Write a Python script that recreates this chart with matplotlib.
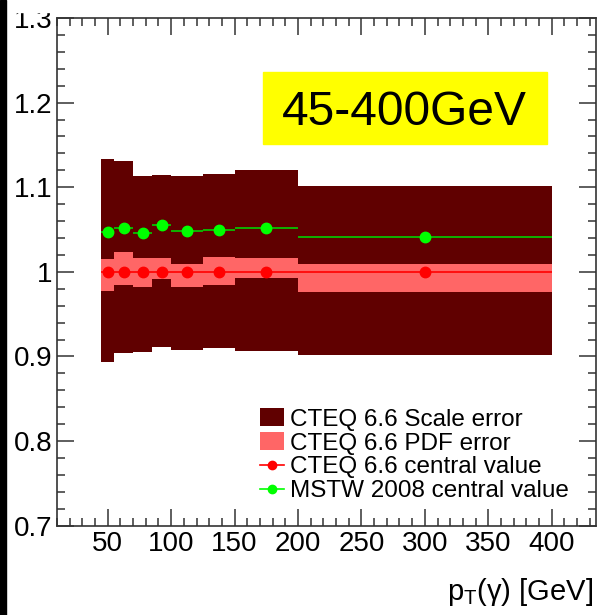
import numpy as np
import matplotlib
matplotlib.use("Agg")
import matplotlib.pyplot as plt
from matplotlib.patches import Patch, Rectangle
from matplotlib.lines import Line2D
from matplotlib.ticker import MultipleLocator, FixedLocator

plt.rcParams['font.family'] = ['Liberation Sans', 'DejaVu Sans']
plt.rcParams['mathtext.fontset'] = 'custom'
plt.rcParams['mathtext.rm'] = 'Liberation Sans'

# pT(gamma) bins [GeV]
bin_edges = [45, 55, 70, 85, 100, 125, 150, 200, 400]

# ratio to CTEQ 6.6 central value
scale_up = [1.133, 1.131, 1.113, 1.114, 1.113, 1.116, 1.120, 1.102]
scale_dn = [0.894, 0.904, 0.905, 0.911, 0.908, 0.910, 0.906, 0.902]
pdf_up = [1.015, 1.024, 1.016, 1.016, 1.009, 1.018, 1.016, 1.009]
pdf_dn = [0.977, 0.985, 0.982, 0.992, 0.982, 0.985, 0.993, 0.976]
cteq_central = [1.0, 1.0, 1.0, 1.0, 1.0, 1.0, 1.0, 1.0]
mstw_central = [1.047, 1.052, 1.046, 1.055, 1.048, 1.049, 1.052, 1.041]

x_ticks = [50, 100, 150, 200, 250, 300, 350, 400]
y_ticks = [0.7, 0.8, 0.9, 1.0, 1.1, 1.2, 1.3]
y_ticklabels = ["0.7", "0.8", "0.9", "1", "1.1", "1.2", "1.3"]

dark_red = "#600000"
light_red = "#ff6666"
red = "#ff0000"
green = "#00ff00"

edges = np.array(bin_edges, dtype=float)
centers = 0.5 * (edges[1:] + edges[:-1])
half_w = 0.5 * (edges[1:] - edges[:-1])

fig = plt.figure(figsize=(6.03, 6.15), dpi=100)
ax = fig.add_axes([0.0945, 0.1452, 0.894, 0.8255])

ax.stairs(scale_up, edges, baseline=scale_dn, fill=True, color=dark_red, lw=0)
ax.stairs(pdf_up, edges, baseline=pdf_dn, fill=True, color=light_red, lw=0)

ax.errorbar(centers, cteq_central, xerr=half_w, fmt='o', color=red, ms=7.5,
            elinewidth=1.2, capsize=0, zorder=4)
ax.errorbar(centers, mstw_central, xerr=half_w, fmt='o', color=green, ms=7.5,
            elinewidth=1.2, ecolor="#00d000", capsize=0, zorder=5)

ax.set_xlim(10, 435)
ax.set_ylim(0.7, 1.3)

ax.xaxis.set_major_locator(FixedLocator(x_ticks))
ax.xaxis.set_minor_locator(MultipleLocator(10))
ax.yaxis.set_major_locator(FixedLocator(y_ticks))
ax.yaxis.set_minor_locator(MultipleLocator(0.02))
ax.set_yticklabels(y_ticklabels)

ax.tick_params(which='both', direction='in', top=True, right=True,
               colors='#333333', labelcolor='black', labelsize=20)
ax.tick_params(which='major', length=12, width=1.1)
ax.tick_params(which='minor', length=6, width=1.1)
ax.tick_params(axis='x', pad=4)
ax.tick_params(axis='y', pad=3)
for sp in ax.spines.values():
    sp.set_color('#333333')
    sp.set_linewidth(1.2)

fig.text(0.9834, 0.0245, r"p$_\mathregular{T}$(γ) [GeV]", ha='right',
         va='baseline', fontsize=21)

# label box
fig.patches.append(Rectangle((0.4362, 0.7654), 0.4705, 0.118,
                             transform=fig.transFigure, color='#ffff00', zorder=3))
fig.text(0.6711, 0.7967, "45-400GeV", ha='center', va='baseline',
         fontsize=34.5, zorder=6)

# white band at the top cuts the "1.3" label, black strip on the left edge
fig.patches.append(Rectangle((0, 1 - 12 / 615), 1, 12 / 615,
                             transform=fig.transFigure, color='white', zorder=3))
fig.patches.append(Rectangle((0, 0), 0.01, 1, transform=fig.transFigure,
                             color='black', zorder=4))

handles = [
    Patch(facecolor=dark_red, edgecolor='none'),
    Patch(facecolor=light_red, edgecolor='none'),
    Line2D([], [], color=red, marker='o', ms=6, lw=1.2),
    Line2D([], [], color=green, marker='o', ms=6, lw=1.2),
]
labels = ["CTEQ 6.6 Scale error", "CTEQ 6.6 PDF error",
          "CTEQ 6.6 central value", "MSTW 2008 central value"]
ax.legend(handles, labels, loc='upper left', bbox_to_anchor=(0.431, 0.336),
          bbox_transform=fig.transFigure, frameon=False, fontsize=17.5,
          handlelength=1.0, handleheight=0.75, handletextpad=0.22,
          labelspacing=0.06, borderpad=0, borderaxespad=0)

fig.savefig("out.png", dpi=100)
